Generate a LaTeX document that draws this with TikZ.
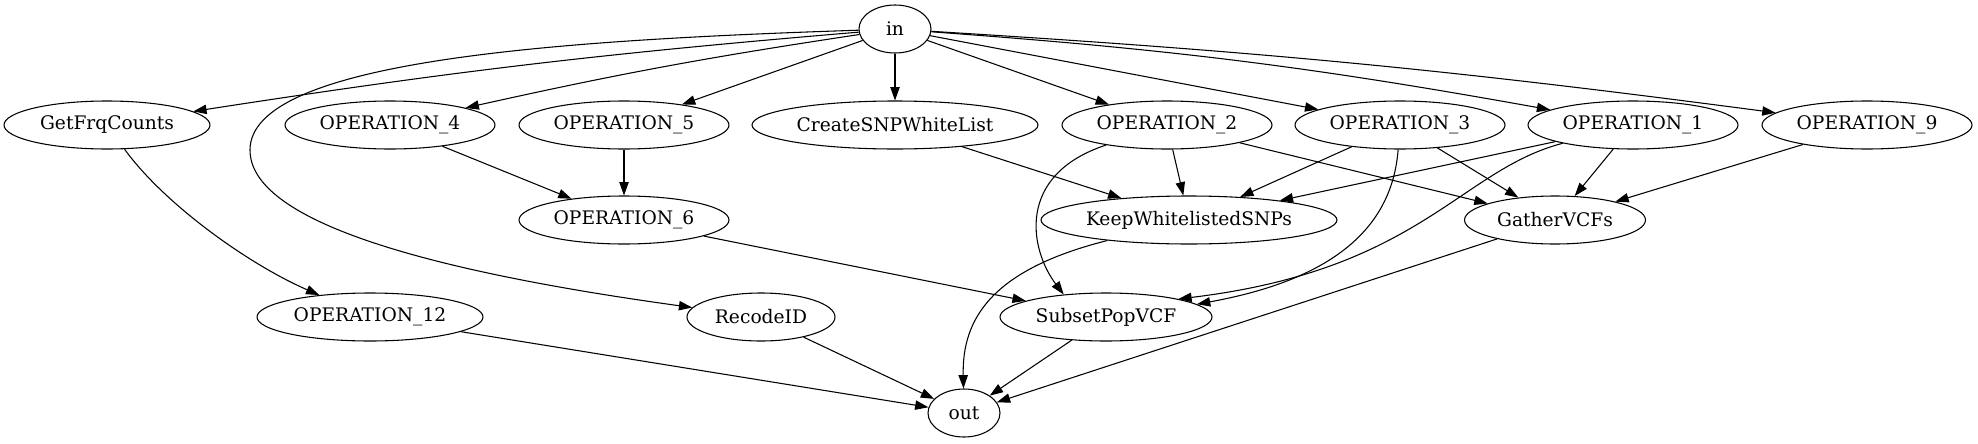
\documentclass[tikz,border=0pt]{standalone}
\usepackage{fontspec}
\setmainfont{DejaVu Serif}
\usetikzlibrary{arrows.meta, shapes.geometric}

\begin{document}
\begin{tikzpicture}[
  x=0.75pt, y=-0.75pt,
  every node/.style={font=\fontsize{14}{16}\selectfont},
  op/.style={ellipse, draw, line width=0.8pt, inner sep=0pt, minimum height=36pt, minimum width=#1},
  arrow/.style={-{Triangle[length=10pt, width=7pt]}, line width=0.8pt},
]
\useasboundingbox (0,0) rectangle (1978,443);

% source
\node[op=54pt] (in) at (895,29) {in};

% first row
\node[op=154.5pt] (frq) at (107,125) {GetFrqCounts};
\node[op=157.5pt] (op4) at (390,125) {OPERATION\_4};
\node[op=157.5pt] (op5) at (624,125) {OPERATION\_5};
\node[op=214.5pt] (white) at (895,125) {CreateSNPWhiteList};
\node[op=157.5pt] (op2) at (1167,125) {OPERATION\_2};
\node[op=157.5pt] (op3) at (1400,125) {OPERATION\_3};
\node[op=157.5pt] (op1) at (1633,125) {OPERATION\_1};
\node[op=157.5pt] (op9) at (1867,125) {OPERATION\_9};

% second row
\node[op=157.5pt] (op6) at (624,220) {OPERATION\_6};
\node[op=222pt] (keep) at (1189,220) {KeepWhitelistedSNPs};
\node[op=135.75pt] (gather) at (1555,220) {GatherVCFs};

% third row
\node[op=169.5pt] (op12) at (370,317) {OPERATION\_12};
\node[op=111pt] (recode) at (761,317) {RecodeID};
\node[op=159pt] (subset) at (1106,317) {SubsetPopVCF};

% sink
\node[op=54pt] (out) at (964,413) {out};

% edges out of in
\draw[arrow] (in) to[bend right=2] (frq);
\draw[arrow] (in) .. controls (560,40) and (250,60) .. (250,150)
  .. controls (250,220) and (420,270) .. (recode);
\draw[arrow] (in) to[bend right=2] (op4);
\draw[arrow] (in) -- (op5);
\draw[arrow] (in) -- (white);
\draw[arrow] (in) -- (op2);
\draw[arrow] (in) -- (op3);
\draw[arrow] (in) to[bend left=3] (op1);
\draw[arrow] (in) to[bend left=2] (op9);

% middle edges
\draw[arrow] (frq) .. controls (165,205) and (250,265) .. (op12);
\draw[arrow] (op4) -- (op6);
\draw[arrow] (op5) -- (op6);
\draw[arrow] (white) -- (keep);
\draw[arrow] (op2) -- (keep);
\draw[arrow] (op2) -- (gather);
\draw[arrow] (op2) .. controls (1015,175) and (1030,250) .. (subset.152);
\draw[arrow] (op3) -- (keep);
\draw[arrow] (op3) -- (gather);
\draw[arrow] (op3) .. controls (1392,230) and (1330,280) .. (subset.8);
\draw[arrow] (op1) -- (keep);
\draw[arrow] (op1) -- (gather);
\draw[arrow] (op1) .. controls (1460,170) and (1420,270) .. (subset.14);
\draw[arrow] (op9) -- (gather);
\draw[arrow] (op6) -- (subset);

% into out
\draw[arrow] (keep) .. controls (990,270) and (962,320) .. (out);
\draw[arrow] (gather) -- (out);
\draw[arrow] (subset) -- (out);
\draw[arrow] (recode) -- (out);
\draw[arrow] (op12) -- (out);
\end{tikzpicture}
\end{document}
